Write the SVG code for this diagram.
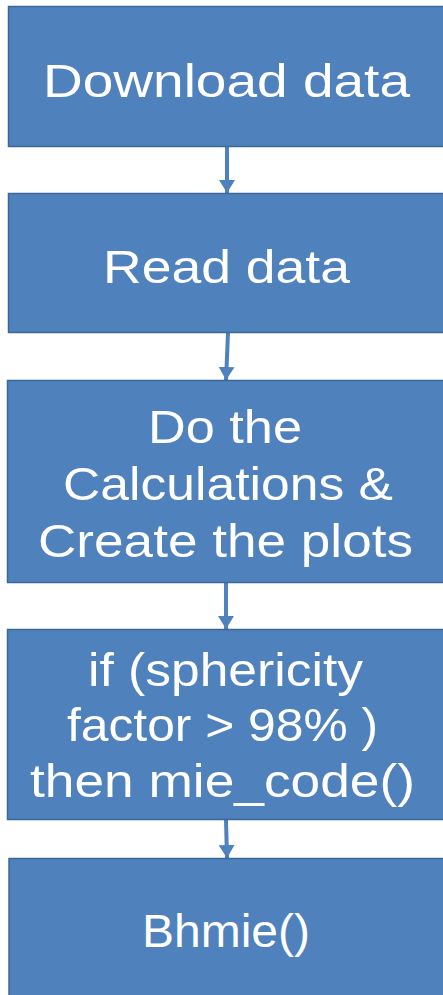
<svg xmlns="http://www.w3.org/2000/svg" width="443" height="995" viewBox="0 0 443 995">
<style>
.box{fill:#4F81BD;stroke:#3A6897;stroke-width:1.5}
.t{fill:#FFFFFF;font-family:"Liberation Sans","DejaVu Sans",sans-serif;font-size:47px;text-anchor:middle}
.c{stroke:#4F81BD;stroke-width:4;fill:none}
</style>
<defs>
<marker id="ah" markerUnits="userSpaceOnUse" markerWidth="16" markerHeight="18" refX="13" refY="9" orient="auto">
<path d="M0,1 L13,9 L0,17 Z" fill="#4F81BD"/>
</marker>
</defs>
<rect width="443" height="995" fill="#FFFFFF"/>
<g id="connectors">
<line class="c" x1="227" y1="147" x2="227" y2="193" marker-end="url(#ah)"/>
<line class="c" x1="228" y1="333" x2="226" y2="380" marker-end="url(#ah)"/>
<line class="c" x1="226" y1="583" x2="226" y2="629" marker-end="url(#ah)"/>
<line class="c" x1="226" y1="820" x2="227" y2="858" marker-end="url(#ah)"/>
</g>
<g id="n1">
<rect class="box" x="8.5" y="6.5" width="440" height="140"/>
<text class="t" x="226.5" y="97" textLength="367" lengthAdjust="spacingAndGlyphs">Download data</text>
</g>
<g id="n2">
<rect class="box" x="8.5" y="193.5" width="440" height="139"/>
<text class="t" x="226.5" y="283" textLength="247" lengthAdjust="spacingAndGlyphs">Read data</text>
</g>
<g id="n3">
<rect class="box" x="7.5" y="380.5" width="440" height="202"/>
<text class="t" x="225" y="443" textLength="154" lengthAdjust="spacingAndGlyphs">Do the</text>
<text class="t" x="228" y="500" textLength="330" lengthAdjust="spacingAndGlyphs">Calculations &amp;</text>
<text class="t" x="225.5" y="557" textLength="375" lengthAdjust="spacingAndGlyphs">Create the plots</text>
</g>
<g id="n4">
<rect class="box" x="7.5" y="629.5" width="440" height="190"/>
<text class="t" x="225.5" y="686" textLength="275" lengthAdjust="spacingAndGlyphs">if (sphericity</text>
<text class="t" x="222.5" y="741" textLength="311" lengthAdjust="spacingAndGlyphs">factor &gt; 98% )</text>
<text class="t" x="222.5" y="797" textLength="385" lengthAdjust="spacingAndGlyphs">then mie_code()</text>
</g>
<g id="n5">
<rect class="box" x="9" y="858.5" width="440" height="145"/>
<text class="t" x="226" y="947" textLength="168" lengthAdjust="spacingAndGlyphs">Bhmie()</text>
</g>
</svg>
